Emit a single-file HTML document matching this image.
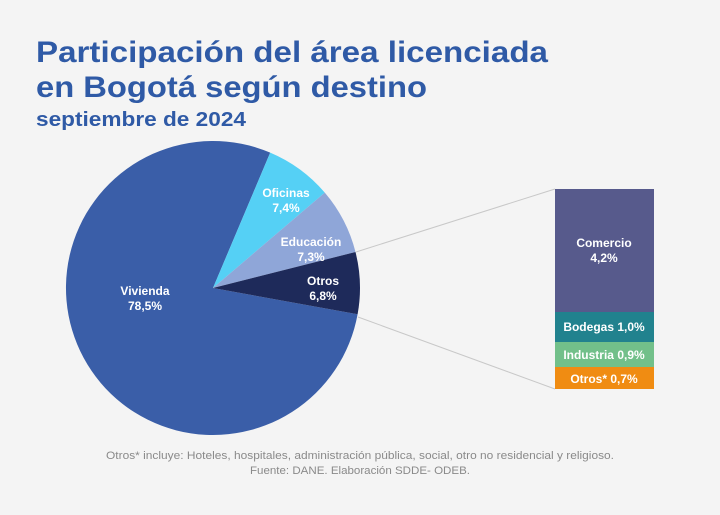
<!DOCTYPE html>
<html><head><meta charset="utf-8"><style>
body{margin:0;width:720px;height:510px;background:#f4f4f4;font-family:"Liberation Sans",sans-serif;overflow:hidden}
</style></head><body>
<svg width="720" height="510" xmlns="http://www.w3.org/2000/svg" font-family="Liberation Sans, sans-serif">
<rect width="720" height="510" fill="#f4f4f4"/>
<text x="36" y="62" font-size="30" font-weight="bold" fill="#2f5aa6" textLength="512" lengthAdjust="spacingAndGlyphs">Participación del área licenciada</text>
<text x="36" y="97" font-size="30" font-weight="bold" fill="#2f5aa6" textLength="391" lengthAdjust="spacingAndGlyphs">en Bogotá según destino</text>
<text x="36" y="126" font-size="20" font-weight="bold" fill="#2f5aa6" textLength="210" lengthAdjust="spacingAndGlyphs">septiembre de 2024</text>
<path d="M213,288 L357.6,314.3 A147,147 0 1 1 270.2,152.6 Z" fill="#3a5ea8"/>
<path d="M213,288 L270.2,152.6 A147,147 0 0 1 324.8,192.6 Z" fill="#55d0f5"/>
<path d="M213,288 L324.8,192.6 A147,147 0 0 1 355.5,252 Z" fill="#8fa6d8"/>
<path d="M213,288 L355.5,252 A147,147 0 0 1 357.6,314.3 Z" fill="#1e2a5a"/>
<line x1="356" y1="252" x2="555" y2="189" stroke="#c8c8c8" stroke-width="1"/>
<line x1="358" y1="317" x2="555" y2="389" stroke="#c8c8c8" stroke-width="1"/>
<rect x="555" y="189" width="99" height="123" fill="#575a8c"/>
<rect x="555" y="312" width="99" height="30" fill="#21828e"/>
<rect x="555" y="342" width="99" height="25" fill="#72c08a"/>
<rect x="555" y="367" width="99" height="22" fill="#f08c12"/>
<g font-weight="bold" fill="#fff" font-size="12" text-anchor="middle">
<text x="145" y="295">Vivienda</text><text x="145" y="310">78,5%</text>
<text x="286" y="197">Oficinas</text><text x="286" y="212">7,4%</text>
<text x="311" y="246">Educación</text><text x="311" y="261">7,3%</text>
<text x="323" y="285">Otros</text><text x="323" y="300">6,8%</text>
<text x="604" y="247">Comercio</text><text x="604" y="262">4,2%</text>
<text x="604" y="331">Bodegas 1,0%</text>
<text x="604" y="359">Industria 0,9%</text>
<text x="604" y="383">Otros* 0,7%</text>
</g>
<g fill="#8a8a8a" font-size="11" text-anchor="middle">
<text x="360" y="459" textLength="508" lengthAdjust="spacingAndGlyphs">Otros* incluye: Hoteles, hospitales, administración pública, social, otro no residencial y religioso.</text>
<text x="360" y="474" textLength="220" lengthAdjust="spacingAndGlyphs">Fuente: DANE. Elaboración SDDE- ODEB.</text>
</g>
</svg>
</body></html>
